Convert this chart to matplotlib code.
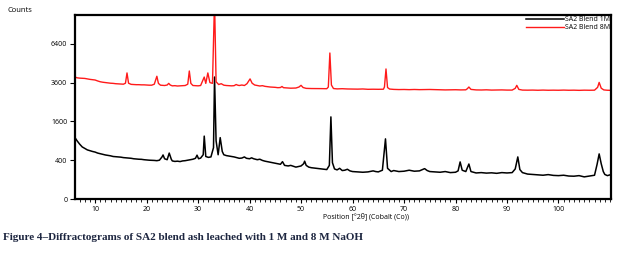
import numpy as np
import matplotlib
matplotlib.use("Agg")
import matplotlib.pyplot as plt

# SA2 Blend 1M (black) - 2theta / counts
pos_1m = [6.1, 6.5, 7, 7.5, 8, 8.5, 9, 9.5, 10, 10.5, 11, 11.5, 12, 12.5, 13, 13.5, 14, 14.5,
          15, 15.5, 16, 16.5, 17, 17.5, 18, 18.5, 19, 19.5, 20, 20.5, 21, 21.5, 22, 22.5,
          23.0, 23.2, 23.5, 24, 24.4, 24.8, 25, 25.5, 26, 26.5, 27, 27.5, 28, 28.5, 29, 29.5,
          29.8, 30.1, 30.5, 31, 31.2, 31.5, 32, 32.5, 33, 33.2, 33.5, 33.9, 34.3, 34.7, 35,
          35.5, 36, 36.5, 37, 37.5, 38, 38.5, 39, 39.4, 40, 40.4, 40.8, 41.5, 42, 42.5, 43,
          43.5, 44, 44.5, 45, 45.5, 46, 46.4, 46.8, 47.5, 48, 48.5, 49, 49.5, 50, 50.5, 50.7,
          51, 51.5, 52, 52.5, 53, 53.5, 54, 54.5, 55, 55.5, 55.8, 56.1, 56.5, 57, 57.5, 58,
          58.5, 59, 59.5, 60, 61, 62, 63, 64, 64.5, 65, 65.8, 66.4, 66.8, 67.5, 68, 69, 70,
          71, 72, 73, 74, 74.5, 75, 76, 77, 78, 79, 80, 80.5, 80.9, 81.3, 82, 82.6, 83, 84,
          85, 86, 87, 88, 89, 90, 91, 91.6, 92.1, 92.5, 93, 94, 95, 96, 97, 98, 99, 100,
          101, 102, 103, 104, 105, 106, 107, 107.5, 107.9, 108.3, 108.7, 109, 109.5, 110, 110.2]
counts_1m = [1000, 900, 800, 720, 680, 640, 620, 600, 585, 560, 545, 530, 515, 505, 495, 480, 475, 470,
             465, 455, 450, 445, 440, 430, 425, 420, 418, 410, 405, 400, 398, 395, 390, 400,
             470, 515, 430, 410, 560, 420, 385, 375, 380, 372, 385, 390, 400, 410, 420, 440,
             510, 430, 445, 520, 1050, 480, 460, 470, 700, 3950, 900, 520, 1000, 600, 520,
             500, 490, 480, 470, 455, 440, 445, 470, 440, 430, 450, 430, 410, 420, 395, 380,
             370, 360, 350, 340, 330, 320, 370, 300, 290, 300, 285, 270, 280, 290, 330, 380,
             300, 270, 260, 255, 250, 245, 240, 235, 230, 300, 1790, 350, 240, 225, 250, 215,
             220, 235, 210, 200, 195, 190, 195, 210, 200, 195, 220, 960, 250, 200, 215, 200, 205,
             220, 205, 210, 245, 215, 200, 195, 190, 200, 185, 190, 210, 365, 220, 200, 325, 200, 180,
             185, 178, 182, 175, 185, 180, 185, 240, 470, 230, 185, 165, 160, 155, 150, 158, 148, 145,
             150, 140, 138, 145, 130, 140, 150, 320, 540, 330, 200, 160, 145, 155, 145]

# SA2 Blend 8M (red)
pos_8m = [6.1, 6.5, 7, 7.5, 8, 8.5, 9, 9.5, 10, 10.5, 11, 11.5, 12, 12.5, 13, 13.5, 14, 14.5,
          15, 15.5, 15.9, 16.2, 16.5, 17, 17.5, 18, 18.5, 19, 19.5, 20, 20.5, 21, 21.5, 22.0,
          22.3, 22.7, 23, 23.5, 24, 24.3, 24.6, 25, 25.5, 26, 26.5, 27, 27.5, 28, 28.3, 28.6,
          29, 29.5, 30, 30.5, 31.2, 31.5, 31.9, 32.3, 32.8, 33.2, 33.5, 34, 34.5, 35, 35.5, 36,
          36.5, 37, 37.4, 37.7, 38, 38.5, 39, 39.5, 40.1, 40.5, 41, 41.5, 42, 42.5, 43, 43.5,
          44, 44.5, 45, 45.5, 46, 46.3, 46.6, 47, 48, 49, 49.6, 50.0, 50.4, 51, 52, 53, 54, 55,
          55.3, 55.6, 55.9, 56.3, 57, 58, 59, 60, 61, 62, 63, 64, 65, 66, 66.2, 66.5, 66.8,
          67.2, 68, 69, 70, 71, 72, 73, 74, 75, 76, 77, 78, 79, 80, 81, 82, 82.3, 82.6, 83,
          84, 85, 86, 87, 88, 89, 90, 91, 91.6, 91.9, 92.3, 93, 94, 95, 96, 97, 98, 99, 100,
          101, 102, 103, 104, 105, 106, 107, 107.6, 107.9, 108.3, 108.8, 109.5, 110.2]
counts_8m = [3950, 3900, 3880, 3870, 3860, 3830, 3800, 3780, 3760, 3700, 3650, 3620, 3600, 3580, 3560, 3550, 3530, 3520,
             3510, 3500, 3560, 4220, 3560, 3490, 3480, 3470, 3470, 3460, 3460, 3450, 3440, 3440, 3500, 4000,
             3550, 3440, 3430, 3420, 3450, 3550, 3450, 3400, 3410, 3390, 3400, 3410, 3420, 3500, 4350, 3550,
             3420, 3410, 3400, 3420, 3950, 3550, 4220, 3600, 3550, 10500, 3650, 3480, 3530, 3440, 3420, 3410,
             3400, 3410, 3480, 3440, 3420, 3450, 3420, 3530, 3830, 3560, 3450, 3420, 3390, 3410, 3370, 3350,
             3330, 3320, 3310, 3290, 3300, 3360, 3290, 3280, 3260, 3270, 3330, 3430, 3300, 3250, 3240, 3240, 3235, 3230,
             3330, 5660, 3450, 3240, 3220, 3230, 3215, 3210, 3205, 3215, 3195, 3200, 3195, 3200, 3330, 4490, 3300,
             3210, 3190, 3180, 3185, 3175, 3185, 3175, 3180, 3185, 3175, 3170, 3160, 3165, 3170, 3160, 3165, 3230, 3330, 3190,
             3160, 3155, 3165, 3150, 3155, 3160, 3150, 3150, 3250, 3430, 3190, 3150, 3145, 3150, 3140, 3150, 3140, 3145, 3140,
             3150, 3140, 3145, 3135, 3145, 3140, 3145, 3310, 3610, 3260, 3160, 3140, 3135]

y_ticks = [0, 400, 1600, 3600, 6400]
x_ticks = [10, 20, 30, 40, 50, 60, 70, 80, 90, 100]

plt.rcParams['font.family'] = ['Open Sans', 'DejaVu Sans']

fig = plt.figure(figsize=(6.27, 2.56), dpi=100)
ax = fig.add_axes([75/627, 1-199/256, (611-75)/627, (199-15)/256])

ax.plot(pos_1m, counts_1m, color='black', lw=1.1, label='SA2 Blend 1M')
ax.plot(pos_8m, counts_8m, color='#ff1a1a', lw=1.0, label='SA2 Blend 8M')

# square-root intensity axis
ax.set_yscale('function', functions=(lambda v: np.sqrt(np.clip(v, 0, None)), lambda v: v**2))
ax.set_ylim(0, 8990)
ax.set_xlim(6.1, 110.2)
ax.set_yticks(y_ticks)
ax.set_xticks(x_ticks)
ax.set_xticks(np.arange(7, 111, 1), minor=True)
ax.tick_params(axis='y', length=3.5, width=0.8, labelsize=5, pad=2)
ax.tick_params(axis='x', which='major', length=3, width=0.8, labelsize=5, pad=2)
ax.tick_params(axis='x', which='minor', length=1.8, width=0.6)
ax.yaxis.set_minor_locator(matplotlib.ticker.NullLocator())
for s in ax.spines.values():
    s.set_linewidth(1.6)

leg = ax.legend(loc='upper right', fontsize=5, frameon=False, handlelength=5.5,
                handletextpad=0.1, borderaxespad=0.05, labelspacing=0.15,
                borderpad=0.1)

fig.text(8/627, 1-10/256, 'Counts', fontsize=5.5, va='center', ha='left')
fig.text(366/627, 1-216/256, 'Position [°2θ] (Cobalt (Co))', fontsize=5, va='center', ha='center')
fig.text(3/627, 1-238/256, 'Figure 4\u2013Diffractograms of SA2 blend ash leached with 1 M and 8 M NaOH',
         fontsize=8, fontweight='bold', family='Liberation Serif', color='#1d2640',
         va='center', ha='left')

fig.savefig('out.png', dpi=100)
